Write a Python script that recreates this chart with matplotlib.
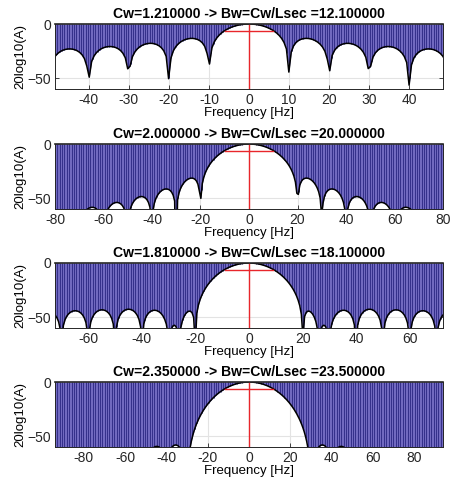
import numpy as np
import matplotlib
matplotlib.use('Agg')
import matplotlib.pyplot as plt

plt.rcParams['font.family'] = ['Liberation Sans', 'DejaVu Sans']

# window types, 6 dB width factors and record length
windows = ['rect', 'hann', 'hamming', 'blackman']
Cw = [1.21, 2.00, 1.81, 2.35]
Lsec = 0.1
xtick_step = [10, 20, 20, 20]
ylims = [-60, 0]
yticks = [-50, 0]

fs = 5000.0
N = int(Lsec * fs)
df = 0.6       # frequency step of the spectrum
f_off = 0.34


def window_spectrum(name, fmax):
    if name == 'rect':
        w = np.ones(N)
    elif name == 'hann':
        w = np.hanning(N)
    elif name == 'hamming':
        w = np.hamming(N)
    else:
        w = np.blackman(N)
    t = (np.arange(N) - (N - 1) / 2) / fs
    f = np.arange(-fmax - 2 + f_off, fmax + 2, df)
    W = np.abs(np.exp(-2j * np.pi * np.outer(f, t)) @ w)
    A = 20 * np.log10(W / w.sum() + 1e-12)
    return f, A


fig = plt.figure(figsize=(4.52, 4.82), dpi=100)
fig.patch.set_facecolor('white')

tops = [24, 144, 263, 382]
H = 482.0
W_ = 452.0
for i, name in enumerate(windows):
    Bw = Cw[i] / Lsec
    xmax = 4 * Bw
    ax = fig.add_axes([55 / W_, 1 - (tops[i] + 65) / H, 388 / W_, 65 / H])
    f, A = window_spectrum(name, xmax)

    ax.set_axisbelow(True)
    ax.grid(True, color='#e3e3e3', lw=0.8)
    ax.fill_between(f, A, 0, color='#7169c0', lw=0, zorder=2)
    xs = np.linspace(-xmax, xmax, 165)
    ax.vlines(xs, np.interp(xs, f, A), 0, color='#2f2b86', lw=0.65, zorder=2.5)
    ax.plot(f, A, color='k', lw=1.1, zorder=3)
    ax.axvline(0, color='#e8262b', lw=1.0, zorder=4)
    ax.plot([-Bw / 2, Bw / 2], [-6, -6], color='#e8262b', lw=1.0, zorder=4)

    ax.set_xlim(-xmax, xmax)
    ax.set_ylim(ylims)
    ax.set_yticks(yticks)
    step = xtick_step[i]
    ticks = np.arange(-np.floor(xmax / step) * step, xmax + 0.01, step)
    ax.set_xticks(ticks)
    ax.set_xticklabels(['%d' % t for t in ticks])
    ax.tick_params(direction='in', length=3, width=0.6, top=True, right=True,
                   labelsize=10, pad=3, colors='#262626')
    for s in ax.spines.values():
        s.set_linewidth(0.7)
        s.set_color('#262626')
        s.set_zorder(5)
    ax.spines['top'].set_linewidth(1.2)
    ax.set_ylabel('20log10(A)', fontsize=9.5, labelpad=1)
    ax.set_xlabel('Frequency [Hz]', fontsize=9.5, labelpad=0)
    ax.set_title('Cw=%f -> Bw=Cw/Lsec =%f' % (Cw[i], Bw), fontsize=10.1,
                 fontweight='bold', pad=4)

fig.savefig('out.png', dpi=100)
